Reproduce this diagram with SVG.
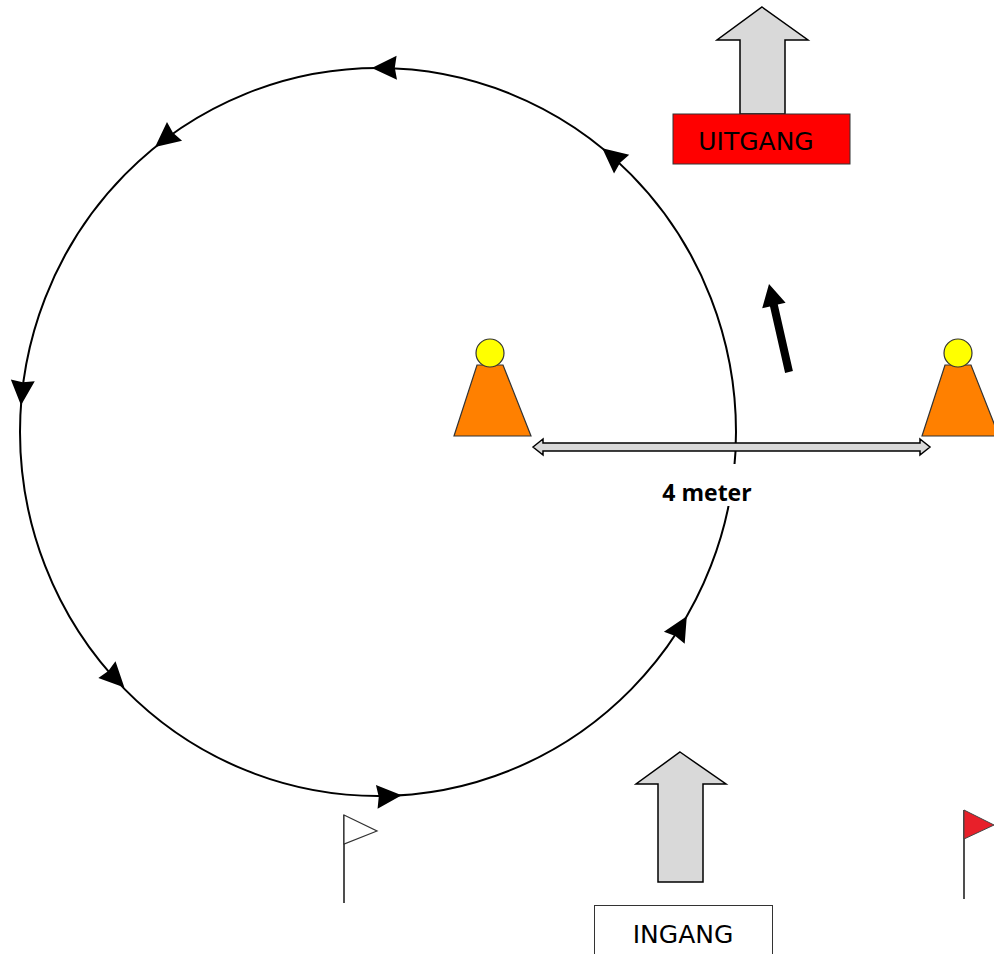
<svg xmlns="http://www.w3.org/2000/svg" width="994" height="954" viewBox="0 0 994 954">
<style>
.big{fill:#d9d9d9;stroke:#000;stroke-width:1.5;stroke-linejoin:miter}
.cone{fill:#ff8000;stroke:#333;stroke-width:1.2}
.ball{fill:#ffff00;stroke:#333;stroke-width:1.2}
.lbl{font-family:"DejaVu Sans",sans-serif;font-size:25px;fill:#000;text-anchor:middle}
.path{fill:none;stroke:#000;stroke-width:2}
.pole{stroke:#222;stroke-width:1.6}
</style>
<defs>
<path id="ah" d="M0,0 L-25,-12 L-23,0 L-25,12 Z" fill="#000"/>
</defs>
<rect width="994" height="954" fill="#fff"/>
<g id="connectors">
<ellipse class="path" cx="378" cy="432" rx="358" ry="364"/>
<use href="#ah" transform="translate(371.8,68.1) rotate(179)"/>
<use href="#ah" transform="translate(155.1,147.1) rotate(141)"/>
<use href="#ah" transform="translate(21,405.3) rotate(94.1)"/>
<use href="#ah" transform="translate(124.4,687.5) rotate(45.6)"/>
<use href="#ah" transform="translate(401.7,795.2) rotate(-3.9)"/>
<use href="#ah" transform="translate(686.8,616.2) rotate(-60)"/>
<use href="#ah" transform="translate(602.3,148.3) rotate(-140.7)"/>
</g>
<g id="measure">
<path class="big" d="M533,447 L543,439 L543,443 L920,443 L920,439 L930,447 L920,455 L920,451 L543,451 L543,455 Z"/>
<rect x="655" y="464" width="105" height="42" fill="#fff"/>
<text x="707" y="501" font-family="'Open Sans',sans-serif" font-size="23" font-weight="bold" text-anchor="middle">4 meter</text>
</g>
<g id="direction-arrow">
<polygon points="785.1,372.9 770,306.4 762.2,308.2 769,284 785.6,302.8 777.8,304.6 792.9,371.1" fill="#000"/>
</g>
<g id="cone-left">
<polygon class="cone" points="454,436 477,365 503,365 531,436"/>
<circle class="ball" cx="490" cy="353" r="14"/>
</g>
<g id="cone-right">
<polygon class="cone" points="922,436 945,365 971,365 999,436"/>
<circle class="ball" cx="958" cy="353" r="14"/>
</g>
<g id="uitgang">
<path class="big" d="M762,7 L808,40 L785,40 L785,114 L740,114 L740,40 L717,40 Z"/>
<rect x="673" y="114" width="177" height="50" fill="#ff0000" stroke="#333" stroke-width="1"/>
<text class="lbl" x="756" y="150">UITGANG</text>
</g>
<g id="ingang">
<path class="big" d="M680,752 L726,784 L703,784 L703,882 L658,882 L658,784 L636,784 Z"/>
<rect x="594.5" y="905.5" width="178" height="60" fill="#fff" stroke="#333" stroke-width="1"/>
<text class="lbl" x="683" y="943">INGANG</text>
</g>
<g id="flag-white">
<line class="pole" x1="344" y1="815" x2="344" y2="903"/>
<polygon points="344,815 377,831 344,844" fill="#fff" stroke="#333" stroke-width="1.2"/>
</g>
<g id="flag-red">
<line class="pole" x1="964" y1="810" x2="964" y2="899"/>
<polygon points="964,810 994,825 964,839" fill="#e8202a" stroke="#444" stroke-width="1"/>
</g>
</svg>
